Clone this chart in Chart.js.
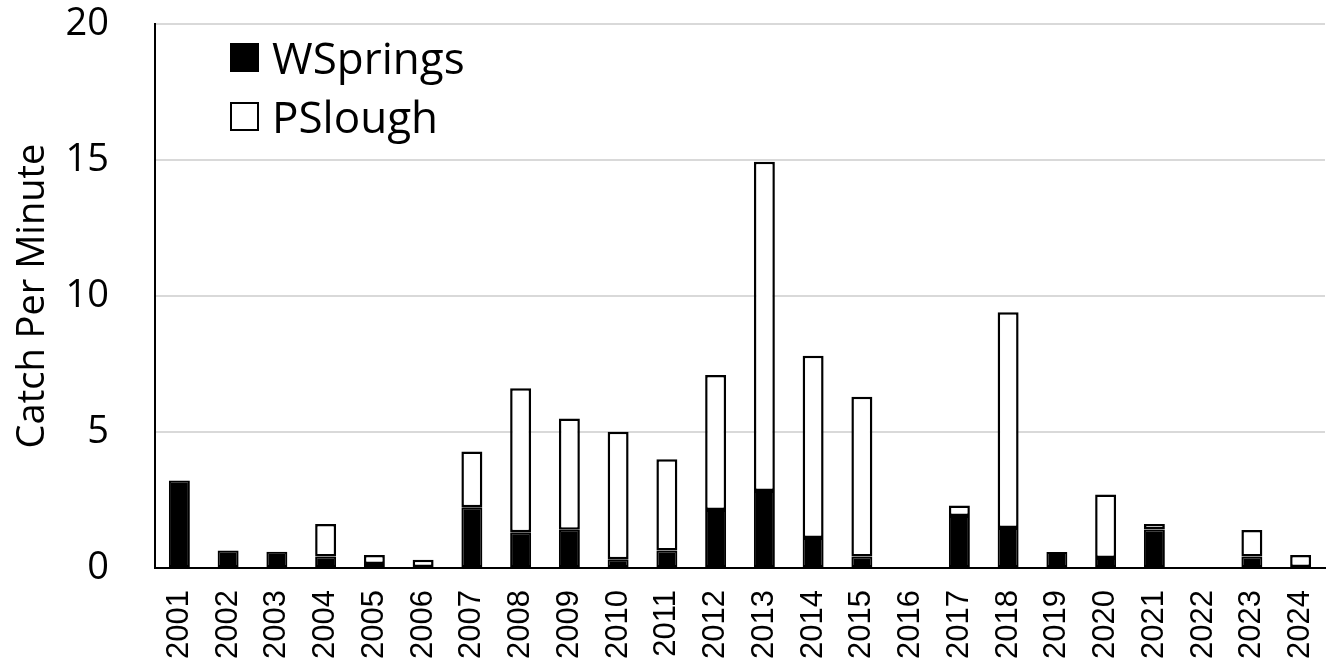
<!DOCTYPE html>
<html>
<head>
<meta charset="utf-8">
<script src="https://cdn.jsdelivr.net/npm/chart.js@4.4.1/dist/chart.umd.min.js"></script>
<style>
  body { margin: 0; background: #fff; }
  #wrap { position: relative; width: 1336px; height: 667px; }
  #legend { position: absolute; left: 230px; top: 0; font-family: 'Open Sans', sans-serif; font-size: 44px; color: #000; }
  .item { position: absolute; left: 0; display: flex; align-items: center; height: 44px; line-height: 44px; white-space: nowrap; }
  .box { width: 29px; height: 29px; box-sizing: border-box; border: 2px solid #000; margin-right: 13px; }
</style>
</head>
<body>
<div id="wrap">
  <canvas id="catchChart" width="1336" height="667"></canvas>
  <div id="legend"></div>
</div>
<script>
const years = ['2001', '2002', '2003', '2004', '2005', '2006', '2007', '2008', '2009', '2010', '2011', '2012',
  '2013', '2014', '2015', '2016', '2017', '2018', '2019', '2020', '2021', '2022', '2023', '2024'];

// catch per minute
const wsprings = [3.22, 0.64, 0.60, 0.42, 0.15, 0, 2.23, 1.31, 1.41, 0.32, 0.64, 2.13,
  2.83, 1.10, 0.42, 0, 1.91, 1.47, 0.59, 0.37, 1.42, 0, 0.42, 0];
const pslough = [0, 0, 0, 1.20, 0.33, 0.30, 2.05, 5.30, 4.09, 4.69, 3.36, 4.97,
  12.11, 6.70, 5.88, 0, 0.39, 7.93, 0, 2.33, 0.20, 0, 0.98, 0.48];

const yTicks = [0, 5, 10, 15, 20];

const seriesNames = ['WSprings', 'PSlough'];
const seriesFill = ['#000000', '#ffffff'];

window.onload = () => {
  const ctx = document.getElementById('catchChart').getContext('2d');
  new Chart(ctx, {
    type: 'bar',
    data: {
      labels: years,
      datasets: [
        {
          label: seriesNames[0],
          data: wsprings,
          backgroundColor: seriesFill[0],
          borderColor: '#000',
          borderWidth: 2,
          borderSkipped: false
        },
        {
          label: seriesNames[1],
          data: pslough,
          backgroundColor: seriesFill[1],
          borderColor: '#000',
          borderWidth: 2.5,
          borderSkipped: false
        }
      ]
    },
    options: {
      responsive: false,
      maintainAspectRatio: false,
      animation: false,
      barPercentage: 0.43,
      categoryPercentage: 1,
      layout: { padding: { top: 24, right: 11, left: 0, bottom: 0 } },
      plugins: {
        legend: { display: false },
        tooltip: { enabled: false }
      },
      scales: {
        x: {
          stacked: true,
          grid: { display: false, drawTicks: false },
          border: { display: true, color: '#000', width: 2 },
          ticks: {
            color: '#000',
            minRotation: 90,
            maxRotation: 90,
            autoSkip: false,
            padding: 22,
            font: { family: 'Liberation Sans', size: 31 }
          },
          afterFit: (scale) => {
            scale.height = 99;
            scale.paddingLeft = 0;
            scale.paddingRight = 0;
          }
        },
        y: {
          stacked: true,
          min: 0,
          max: 20,
          afterBuildTicks: (scale) => { scale.ticks = yTicks.map(v => ({ value: v })); },
          grid: { color: '#d9d9d9', lineWidth: 2, drawTicks: false },
          border: { display: true, color: '#000', width: 2 },
          ticks: {
            color: '#000',
            padding: 46,
            font: { family: 'Open Sans', size: 38 }
          },
          title: {
            display: true,
            text: 'Catch Per Minute',
            color: '#000',
            padding: { top: 10, bottom: 0 },
            font: { family: 'Open Sans', size: 38 }
          },
          afterFit: (scale) => {
            scale.width = 155;
            // tick padding would otherwise be added above and below the axis
            scale.paddingTop = 0;
            scale.paddingBottom = 0;
          }
        }
      }
    }
  });

  // legend drawn inside the plot, top-left
  const legend = document.getElementById('legend');
  const tops = [35, 94];
  seriesNames.forEach((name, i) => {
    const item = document.createElement('div');
    item.className = 'item';
    item.style.top = tops[i] + 'px';
    item.innerHTML = `<span class="box" style="background:${seriesFill[i]}"></span><span>${name}</span>`;
    legend.appendChild(item);
  });
};
</script>
</body>
</html>
